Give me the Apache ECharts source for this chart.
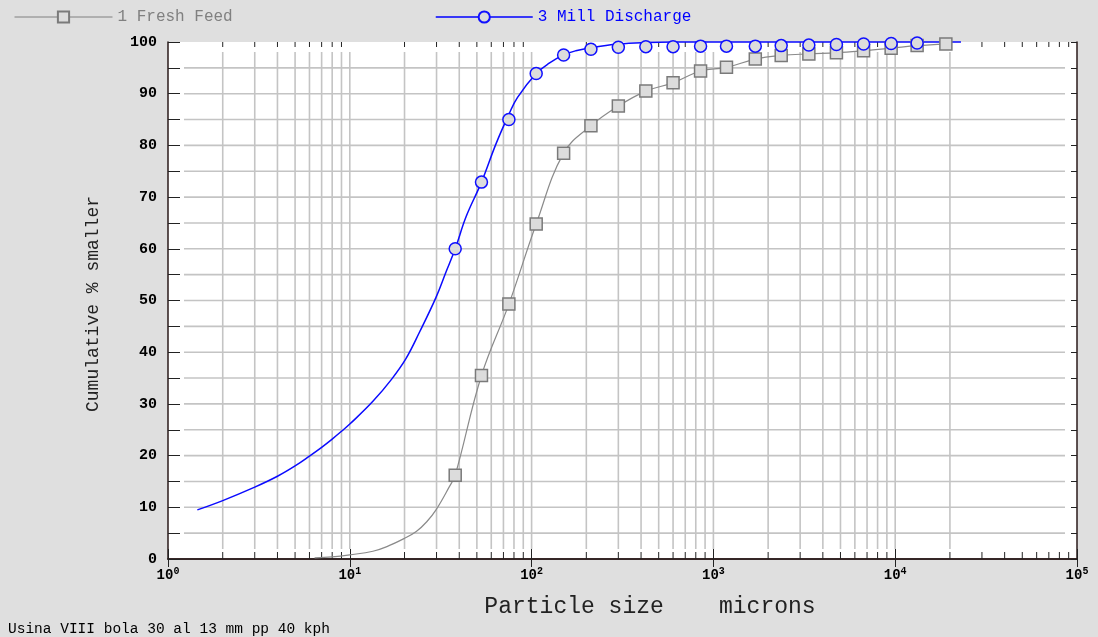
<!DOCTYPE html>
<html><head><meta charset="utf-8">
<script src="https://cdn.jsdelivr.net/npm/echarts@6/dist/echarts.min.js"></script>
<style>html,body{margin:0;padding:0;background:#dfdfdf;}#c{width:1098px;height:637px;}</style>
</head><body><div id="c"></div>
<script>
// Sieve sizes (microns) for the measured points
const sieveSizes = [38, 53, 75, 106, 150, 212, 300, 425, 600, 850, 1180, 1700, 2360, 3350, 4750, 6700, 9500, 13200, 19000];
// Measured cumulative % smaller
const freshFeedPts = [16.2, 35.5, 49.3, 64.8, 78.5, 83.8, 87.6, 90.5, 92.1, 94.4, 95.1, 96.7, 97.4, 97.7, 97.9, 98.3, 98.8, 99.3, 99.6];
const millDischargePts = [60.0, 72.9, 85.0, 93.9, 97.5, 98.6, 99.0, 99.1, 99.1, 99.2, 99.2, 99.2, 99.3, 99.4, 99.5, 99.6, 99.7, 99.8];

// Curves
const feedCurveSizes = [6.4, 8, 10, 13.4, 16, 20, 23.2, 26.5, 29.8, 35.3, 38, 53, 75, 106, 150, 212, 300, 425, 600, 850, 1180, 1700, 2360, 3350, 4750, 6700, 9500, 13200, 19000];
const feedCurveVals  = [0.2, 0.4, 0.8, 1.5, 2.4, 4.0, 5.3, 7.2, 9.5, 14.0, 16.2, 35.5, 49.3, 64.8, 78.5, 83.8, 87.6, 90.5, 92.1, 94.4, 95.1, 96.7, 97.4, 97.7, 97.9, 98.3, 98.8, 99.3, 99.6];
const millCurveSizes = [1.45, 2, 3, 4, 5, 6, 7, 8, 9, 10, 13.4, 17, 20.4, 24.2, 29.8, 33.9, 38, 43.6, 53, 63.7, 75, 83.7, 106, 125, 150, 175, 212, 300, 425, 600, 23000];
const millCurveVals  = [9.5, 11.3, 13.9, 16.0, 18.0, 19.9, 21.6, 23.2, 24.7, 26.1, 30.5, 34.8, 38.8, 43.9, 50.6, 55.6, 60.0, 66.2, 72.9, 80.3, 86.0, 89.3, 93.9, 95.9, 97.5, 98.3, 98.9, 99.6, 99.9, 100, 100];

// Grid / tick values
const xGridValues = [2,3,4,5,6,7,8,9,10,20,30,40,50,60,70,80,90,100,200,300,400,500,600,700,800,900,1000,2000,3000,4000,5000,6000,7000,8000,9000,10000,20000];
const xMinorTickValues = [];
[1,10,100,1000,10000].forEach(d => { for (let k = 2; k <= 9; k++) xMinorTickValues.push(k*d); });
const yGridValues = [5,10,15,20,25,30,35,40,45,50,55,60,65,70,75,80,85,90,95];

const legendNames = ['1 Fresh Feed', '3 Mill Discharge'];
const xTitle = 'Particle size    microns';
const yTitle = 'Cumulative % smaller';
const footNote = 'Usina VIII bola 30 al 13 mm pp 40 kph';

const MONO = '"Liberation Mono", "DejaVu Sans Mono", monospace';
const pairs = (xs, ys) => xs.map((x, i) => [x, ys[i]]);

const chart = echarts.init(document.getElementById('c'), null, {renderer: 'canvas'});
const option = {
  backgroundColor: '#dfdfdf',
  animation: false,
  grid: {left: 168, right: 21, top: 42, bottom: 78, show: true, backgroundColor: '#ffffff', borderWidth: 0},
  legend: [
    {data: [legendNames[0]], left: 9, top: 4, itemWidth: 98, itemHeight: 14, selectedMode: false,
     textStyle: {color: '#808080', fontFamily: MONO, fontSize: 16},
     lineStyle: {opacity: 1, width: 1, color: '#808080'}},
    {data: [legendNames[1]], left: 430, top: 4, itemWidth: 97, itemHeight: 14, selectedMode: false,
     textStyle: {color: '#0000ff', fontFamily: MONO, fontSize: 16},
     lineStyle: {opacity: 1, width: 1.5, color: '#0000ff'}}
  ],
  xAxis: [
    {type: 'log', logBase: 10, min: 1, max: 100000, position: 'bottom',
     axisLine: {lineStyle: {color: '#2a1a1a', width: 1.5}},
     axisTick: {inside: true, length: 10, lineStyle: {color: '#222', width: 1}},
     splitLine: {show: false}, minorTick: {show: false},
     axisLabel: {margin: 7, showMinLabel: true, showMaxLabel: true,
       formatter: v => '{b|10}{s|' + Math.round(Math.log10(v)) + '}',
       rich: {
         b: {fontFamily: MONO, fontSize: 14, fontWeight: 'bold', color: '#000', lineHeight: 18},
         s: {fontFamily: MONO, fontSize: 10, fontWeight: 'bold', color: '#000', verticalAlign: 'top', lineHeight: 10}
       }}},
    {type: 'log', logBase: 10, min: 1, max: 100000, position: 'top',
     axisLine: {lineStyle: {color: '#2a1a1a', width: 1.5}},
     axisTick: {inside: true, length: 8, lineStyle: {color: '#222', width: 1}},
     axisLabel: {show: false}, splitLine: {show: false}}
  ],
  yAxis: [
    {type: 'value', min: 0, max: 100, interval: 5, position: 'left',
     axisLine: {show: true, lineStyle: {color: '#2a1a1a', width: 1.5}},
     axisTick: {show: true, inside: true, length: 12, lineStyle: {color: '#222', width: 1}},
     splitLine: {show: false},
     axisLabel: {margin: 11, fontFamily: MONO, fontSize: 15, fontWeight: 'bold', color: '#000',
       formatter: v => (v % 10 === 0 ? String(v) : '')}},
    {type: 'value', min: 0, max: 100, interval: 5, position: 'right',
     axisLine: {show: true, lineStyle: {color: '#2a1a1a', width: 1.5}},
     axisTick: {show: true, inside: true, length: 6, lineStyle: {color: '#222', width: 1}},
     splitLine: {show: false}, axisLabel: {show: false}}
  ],
  graphic: [
    {type: 'text', x: 93, y: 304, rotation: Math.PI / 2,
     style: {text: yTitle, fontFamily: MONO, fontSize: 18, fill: '#222', align: 'center', verticalAlign: 'middle'}},
    {type: 'text', x: 650, y: 607,
     style: {text: xTitle, fontFamily: MONO, fontSize: 23, fill: '#222', align: 'center', verticalAlign: 'middle'}},
    {type: 'text', x: 8, y: 629,
     style: {text: footNote, fontFamily: MONO, fontSize: 14.5, fill: '#000', align: 'left', verticalAlign: 'middle'}}
  ],
  series: [
    {type: 'custom', name: 'decor', silent: true, z: 1, clip: false,
     xAxisIndex: 0, yAxisIndex: 0, data: [[10, 50]], encode: {x: 0, y: 1},
     renderItem: (params, api) => {
       const ch = [];
       xGridValues.forEach(v => {
         const t = api.coord([v, 100]), b = api.coord([v, 0]);
         ch.push({type: 'line', shape: {x1: t[0], y1: t[1] + 10, x2: t[0], y2: b[1] - 10},
                  style: {stroke: '#c4c4c4', lineWidth: 1.6}});
       });
       yGridValues.forEach(v => {
         const l = api.coord([1, v]), r = api.coord([100000, v]);
         ch.push({type: 'line', shape: {x1: l[0] + 16, y1: l[1], x2: r[0] - 12, y2: r[1]},
                  style: {stroke: '#c4c4c4', lineWidth: 1.6}});
       });
       xMinorTickValues.forEach(v => {
         const t = api.coord([v, 100]), b = api.coord([v, 0]);
         ch.push({type: 'line', shape: {x1: t[0], y1: t[1], x2: t[0], y2: t[1] + 5}, style: {stroke: '#222', lineWidth: 1}});
         ch.push({type: 'line', shape: {x1: b[0], y1: b[1], x2: b[0], y2: b[1] - 7}, style: {stroke: '#222', lineWidth: 1}});
       });
       return {type: 'group', children: ch};
     }},
    {type: 'line', name: 'feedCurve', data: pairs(feedCurveSizes, feedCurveVals), smooth: 0.4,
     showSymbol: false, symbol: 'none', silent: true, clip: false, z: 3,
     lineStyle: {color: '#8a8a8a', width: 1.2}},
    {type: 'line', name: 'millCurve', data: pairs(millCurveSizes, millCurveVals), smooth: 0.4,
     showSymbol: false, symbol: 'none', silent: true, clip: false, z: 3,
     lineStyle: {color: '#0a0aff', width: 1.5}},
    {type: 'line', name: legendNames[0], data: pairs(sieveSizes, freshFeedPts), symbol: 'rect', symbolSize: 12,
     showSymbol: true, showAllSymbol: true, z: 4, clip: false,
     lineStyle: {opacity: 0}, itemStyle: {color: '#dcdcdc', borderColor: '#7a7a7a', borderWidth: 1.5}},
    {type: 'line', name: legendNames[1], data: pairs(sieveSizes.slice(0, millDischargePts.length), millDischargePts),
     symbol: 'circle', symbolSize: 12, showSymbol: true, showAllSymbol: true, z: 5, clip: false,
     lineStyle: {opacity: 0}, itemStyle: {color: '#dcdcdc', borderColor: '#1010ff', borderWidth: 1.5}}
  ]
};
chart.setOption(option);
</script>
</body></html>
